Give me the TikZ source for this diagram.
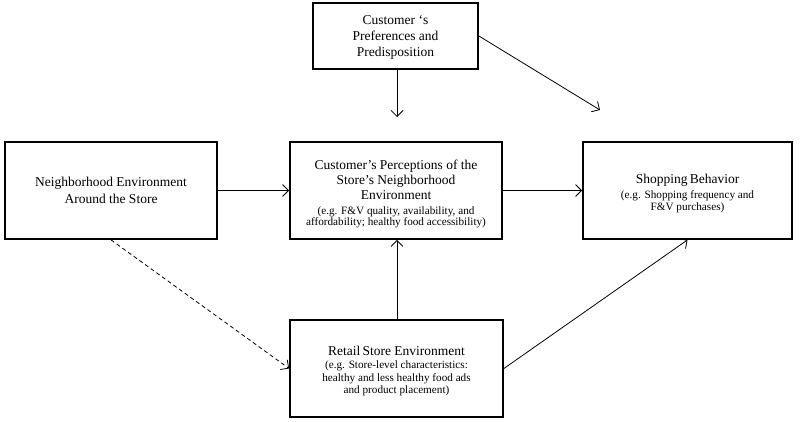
\documentclass[tikz,border=0pt]{standalone}
\usepackage{fontspec}
\setmainfont{Liberation Serif}
\usetikzlibrary{arrows.meta}
\newcommand\bigtxt{\fontsize{13.5}{15}\selectfont}
\newcommand\smalltxt{\fontsize{11.2}{12}\selectfont}
\newcommand\lift[1]{\rule{0pt}{#1}}
\begin{document}
\begin{tikzpicture}[x=1pt,y=-1pt,
  box/.style={draw,line width=1.8pt,inner sep=0pt,align=center,font=\bigtxt},
  conn/.style={line width=0.8pt,-{Straight Barb[length=6pt,width=12pt,line width=0.8pt]}}]
\useasboundingbox (0,0) rectangle (800,422);
\fill[white] (0,0) rectangle (800,422);
\node[box,minimum width=165,minimum height=66,font=\fontsize{13.5}{16}\selectfont] (pref) at (395.5,36)
  {\lift{12.3pt}Customer ‘s\\Preferences and\\Predisposition};
\node[box,minimum width=212,minimum height=97,font=\fontsize{13.5}{17.5}\selectfont] (nbh) at (111,190.5)
  {Neighborhood Environment\\Around the Store};
\node[box,minimum width=212,minimum height=97] (mid) at (396,190.5)
  {\lift{16.3pt}Customer’s Perceptions of the\\Store’s Neighborhood\\Environment\\[0pt]
   \smalltxt (e.g. F\&V quality, availability, and\\[-4pt]\smalltxt affordability; healthy food accessibility)};
\node[box,minimum width=209,minimum height=97] (shop) at (687.5,190.5)
  {\lift{15.3pt}Shopping\,Behavior\\[0pt]
   \smalltxt (e.g. Shopping frequency and\\[-3pt]\smalltxt F\&V purchases)};
\node[box,minimum width=213,minimum height=97] (ret) at (396.5,368.5)
  {\lift{15.3pt}Retail\,Store Environment\\[-2pt]
   \smalltxt (e.g. Store-level characteristics:\\[-2pt]\smalltxt healthy and less healthy food ads\\[-3pt]\smalltxt and product placement)};
\coordinate (p1) at (397,117);
\coordinate (p2) at (600,110);
\draw[conn] (pref.south -| p1) -- (p1);
\draw[conn] (pref.east) -- (p2);
\draw[conn] (nbh.east) -- (mid.west);
\draw[conn] (mid.east) -- (shop.west);
\draw[conn] (ret.north -| p1) -- (mid.south -| p1);
\draw[conn] (ret.east) -- (shop.south);
\draw[conn,dashed,dash pattern=on 4pt off 3pt] (nbh.south) -- (ret.west);
\end{tikzpicture}
\end{document}
